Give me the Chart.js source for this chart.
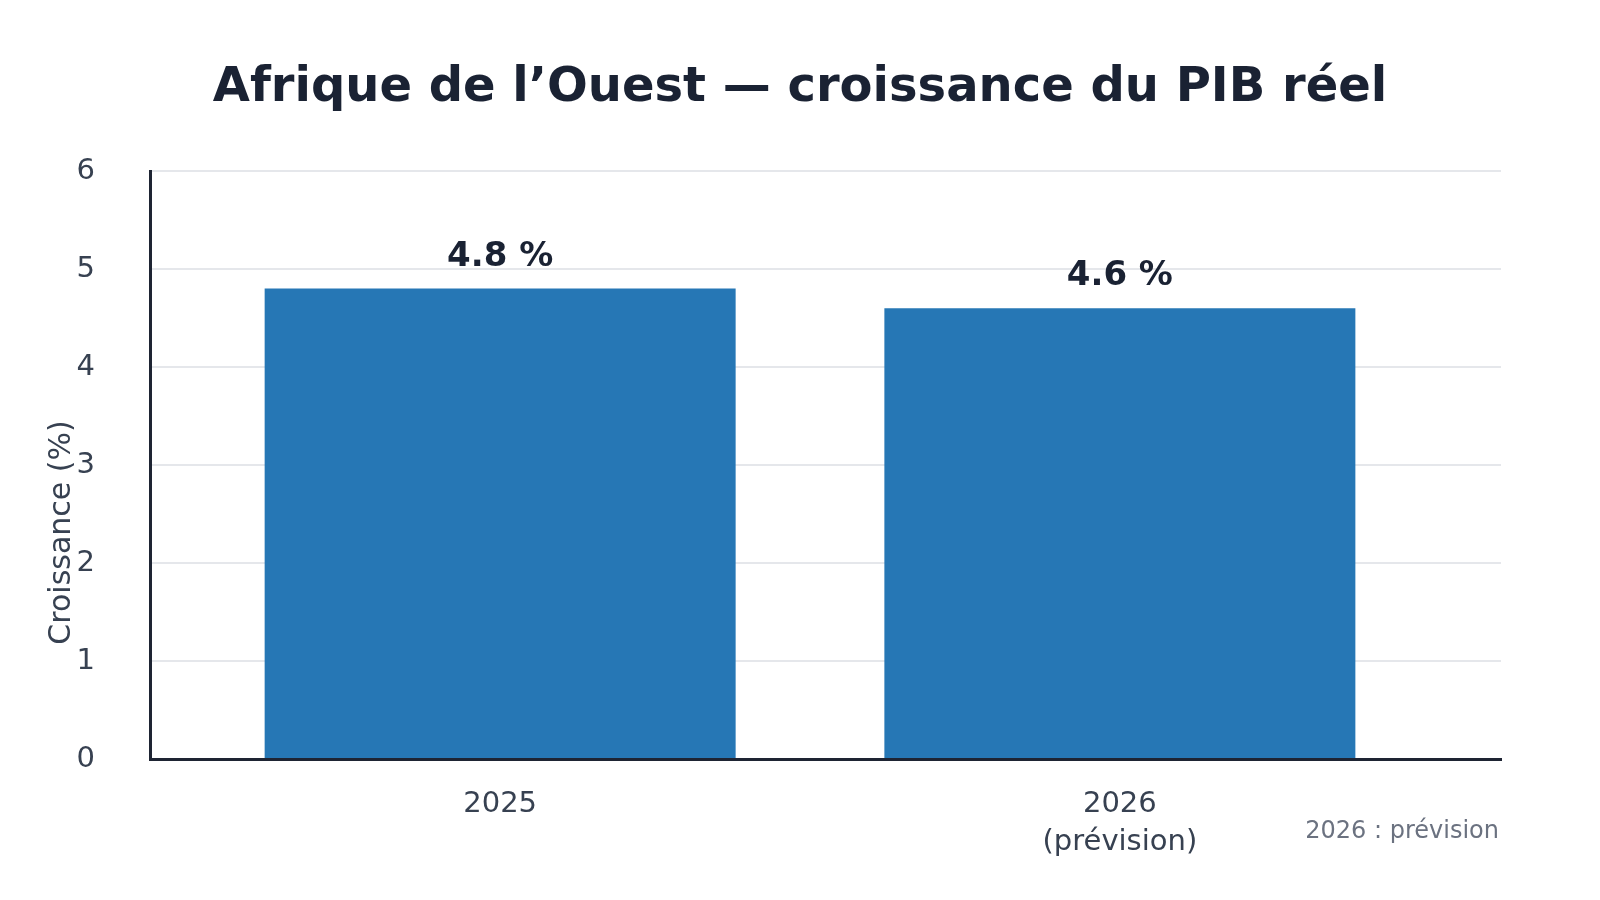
<!DOCTYPE html>
<html lang="fr">
<head>
<meta charset="utf-8">
<title>Afrique de l’Ouest — croissance du PIB réel</title>
<script src="https://cdn.jsdelivr.net/npm/chart.js@4/dist/chart.umd.min.js"></script>
<style>
  html, body { margin: 0; padding: 0; background: #ffffff; }
  .chart-wrap { position: relative; width: 1600px; height: 900px; }
</style>
</head>
<body>
<div class="chart-wrap"><canvas id="growthChart"></canvas></div>
<script>
(function () {
    'use strict';

    // data
    var years = ['2025', '2026'];
    var yearLabels = [['2025'], ['2026', '(prévision)']];
    var growth = [4.8, 4.6];
    var yTicks = [0, 1, 2, 3, 4, 5, 6];

    var titleText = 'Afrique de l’Ouest — croissance du PIB réel';
    var yTitleText = 'Croissance (%)';
    var noteText = '2026 : prévision';

    var FONT = '"DejaVu Sans", "Noto Sans", sans-serif';
    var DARK = '#1a2233';
    var TICK = '#374151';
    var AXIS = '#1e2433';
    var GRID = '#e5e7eb';
    var BAR = '#2677b5';

    function init() {
        if (typeof Chart === 'undefined') return;
        var el = document.getElementById('growthChart');
        if (!el) return;

        Chart.defaults.font.family = FONT;

        var points = years.map(function (y, i) { return { x: i, y: growth[i] }; });

        var valueLabels = {
            id: 'valueLabels',
            afterDatasetsDraw: function (chart) {
                var ctx = chart.ctx;
                var meta = chart.getDatasetMeta(0);
                ctx.save();
                ctx.font = 'bold 34px ' + FONT;
                ctx.fillStyle = DARK;
                ctx.textAlign = 'center';
                ctx.textBaseline = 'alphabetic';
                meta.data.forEach(function (bar, i) {
                    ctx.fillText(growth[i].toFixed(1) + ' %', bar.x, bar.y - 23);
                });
                ctx.restore();
            }
        };

        var extras = {
            id: 'extras',
            afterDraw: function (chart) {
                var ctx = chart.ctx;
                var area = chart.chartArea;

                // title, centred on the whole canvas
                ctx.save();
                ctx.font = 'bold 48px ' + FONT;
                ctx.fillStyle = DARK;
                ctx.textAlign = 'center';
                ctx.textBaseline = 'alphabetic';
                ctx.fillText(titleText, chart.width / 2, 101);
                ctx.restore();

                // y axis title, sits over the tick labels like the original
                ctx.save();
                ctx.font = '30px ' + FONT;
                ctx.fillStyle = TICK;
                ctx.textAlign = 'center';
                ctx.textBaseline = 'middle';
                ctx.translate(area.left - 88, (area.top + chart.height) / 2 - 3);
                ctx.rotate(-Math.PI / 2);
                ctx.fillText(yTitleText, 0, 0);
                ctx.restore();

                ctx.save();
                ctx.font = '24px ' + FONT;
                ctx.fillStyle = '#6b7280';
                ctx.textAlign = 'right';
                ctx.textBaseline = 'alphabetic';
                ctx.fillText(noteText, area.right - 2, area.bottom + 79);
                ctx.restore();
            }
        };

        new Chart(el, {
            type: 'bar',
            data: {
                datasets: [{
                    label: 'Croissance du PIB réel (%)',
                    data: points,
                    backgroundColor: BAR,
                    borderWidth: 0,
                    categoryPercentage: 1,
                    barPercentage: 0.76
                }]
            },
            options: {
                responsive: true,
                maintainAspectRatio: false,
                animation: false,
                layout: { padding: { left: 0, right: 99, top: 171, bottom: 0 } },
                plugins: {
                    legend: { display: false },
                    tooltip: { enabled: false },
                    title: { display: false }
                },
                scales: {
                    x: {
                        type: 'linear',
                        offset: false,
                        min: -0.565,
                        max: 1.615,
                        afterBuildTicks: function (scale) {
                            scale.ticks = years.map(function (y, i) { return { value: i }; });
                        },
                        afterFit: function (scale) { scale.height = 141; },
                        ticks: {
                            color: TICK,
                            font: { size: 29, lineHeight: 1.3 },
                            padding: 27,
                            autoSkip: false,
                            maxRotation: 0,
                            callback: function (v) { return yearLabels[v]; }
                        },
                        grid: { display: false, drawTicks: false, offset: false },
                        border: { display: true, color: AXIS, width: 3 }
                    },
                    y: {
                        min: yTicks[0],
                        max: yTicks[yTicks.length - 1],
                        afterFit: function (scale) { scale.width = 150; },
                        ticks: {
                            stepSize: 1,
                            color: TICK,
                            font: { size: 29 },
                            padding: 55
                        },
                        grid: { color: GRID, lineWidth: 2, drawTicks: false },
                        border: { display: true, color: AXIS, width: 3 }
                    }
                }
            },
            plugins: [valueLabels, extras]
        });
    }

    if (document.readyState === 'loading') {
        document.addEventListener('DOMContentLoaded', init);
    } else {
        init();
    }
})();
</script>
</body>
</html>
